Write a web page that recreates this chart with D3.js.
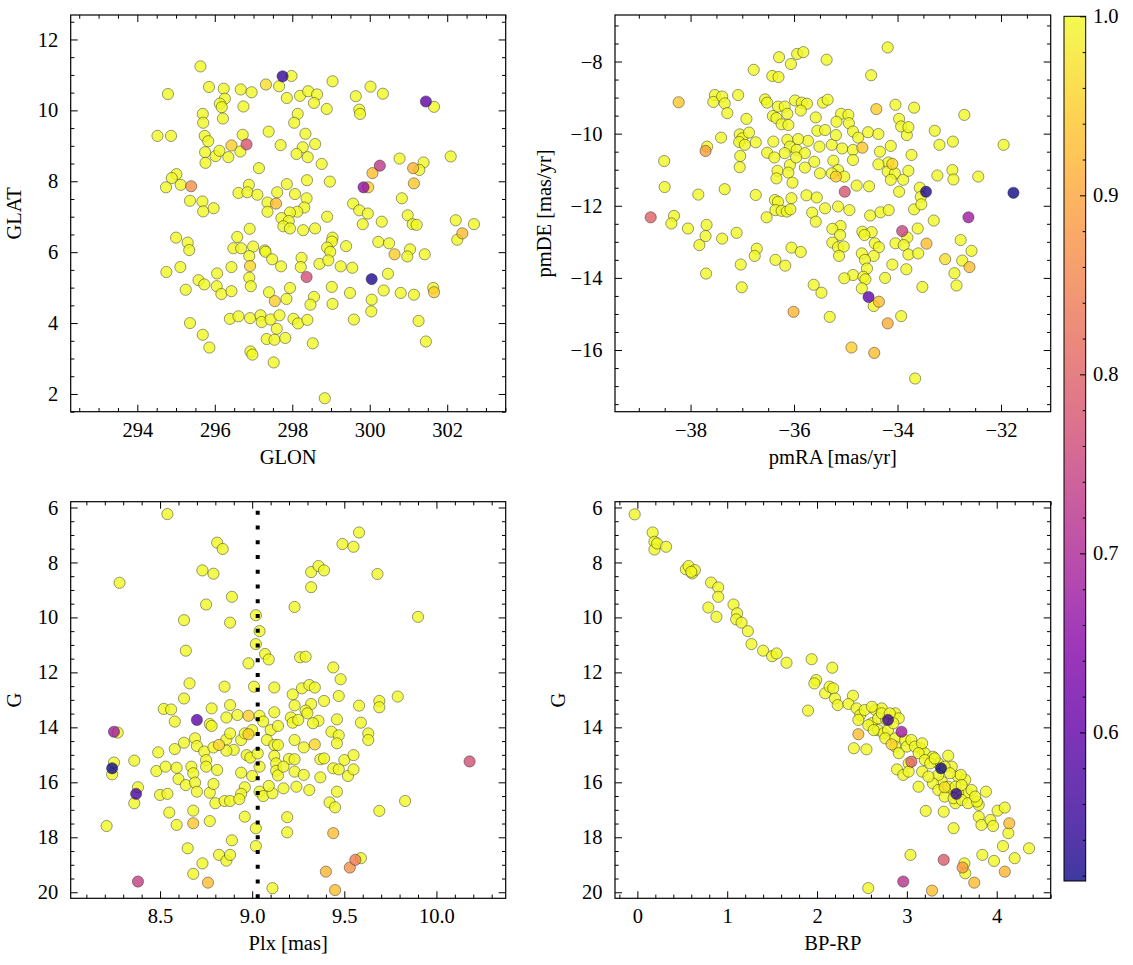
<!DOCTYPE html>
<html><head><meta charset="utf-8">
<script src="https://cdn.jsdelivr.net/npm/d3@7"></script>
<style>body{margin:0;background:#fff} text{font-family:"Liberation Serif","DejaVu Serif",serif;}</style>
</head><body><svg id="c" width="1133" height="965"></svg>
<script>
// ---------- data (x, y, membership probability; probability omitted = 1.0) ----------
const probDomain=[0.517,1.0];
const cbTicks=[0.6,0.7,0.8,0.9,1.0];
const plxMean=9.03;

const glonGlat=[[295.63,11.24],[297.75,10.96,0.55],[297.98,10.97],[299.04,10.82],[297.32,10.73,0.97],[297.66,10.68],[295.85,10.66],[296.23,10.61],[296.67,10.59],[296.95,10.51],[300.02,10.67],[300.34,10.47],[294.79,10.46],[298.20,10.41],[298.41,10.54],[298.64,10.45],[297.86,10.35],[299.64,10.40],[296.26,10.33],[296.13,10.19],[296.18,10.09],[296.74,10.11],[298.56,10.21],[298.89,10.04],[301.45,10.25,0.60],[301.66,10.10],[299.73,10.02],[299.75,9.90],[295.69,9.90],[295.70,9.65],[296.21,9.77],[298.14,9.90],[298.05,9.65],[294.52,9.28],[294.87,9.28],[295.74,9.28],[295.83,9.13],[296.72,9.31],[297.39,9.40],[298.34,9.34],[298.59,9.05],[296.43,9.01,0.95],[296.82,9.04,0.78],[296.66,8.84],[297.70,9.02],[298.27,8.96],[298.11,8.77],[298.40,8.68],[295.75,8.82],[296.02,8.71],[296.12,8.86],[296.35,8.68],[295.76,8.52],[298.76,8.49],[297.14,8.37],[300.77,8.64],[301.39,8.53],[302.09,8.70],[300.26,8.44,0.73],[300.07,8.23,0.93],[301.12,8.37,0.92],[301.28,8.32],[301.14,7.94,0.94],[295.01,8.20],[294.89,8.09],[294.74,7.83],[295.12,7.90],[295.39,7.86,0.87],[298.38,8.03],[298.97,7.99],[297.86,7.92],[296.88,7.90],[299.96,7.83,0.95],[299.84,7.83,0.66],[296.61,7.67],[296.84,7.69],[297.10,7.62],[297.61,7.69],[298.07,7.64],[298.37,7.52],[297.36,7.40],[297.58,7.37,0.93],[295.36,7.45],[295.68,7.43],[295.70,7.15],[295.97,7.24],[300.83,7.52],[299.57,7.37],[299.73,7.18],[299.95,7.09],[297.36,7.14],[298.31,7.26],[298.13,7.14],[297.94,7.12],[298.90,7.00],[297.72,6.96],[297.91,6.88],[297.77,6.73],[297.94,6.67],[298.28,6.62],[298.59,6.67],[299.82,6.79],[300.31,6.86],[300.98,7.04],[301.11,6.79],[301.21,6.77],[302.22,6.90],[302.69,6.79],[302.39,6.53,0.93],[302.26,6.35],[296.90,6.66],[295.00,6.41],[295.30,6.27],[295.34,6.06],[296.58,6.43],[296.48,6.11],[296.68,6.11],[296.99,6.16],[297.29,6.05],[297.31,6.01],[296.89,5.89],[297.48,5.80],[299.04,6.41],[299.02,6.30],[298.90,6.13],[298.98,6.01],[299.39,6.17],[300.22,6.29],[300.50,6.25],[300.64,5.94,0.95],[301.04,6.08],[300.97,5.88],[301.42,5.94],[298.24,5.84],[298.22,5.58],[298.70,5.67],[298.93,5.77],[299.25,5.60],[299.55,5.56],[294.75,5.44],[295.11,5.58],[296.06,5.40],[296.43,5.58],[296.91,5.61,0.96],[297.71,5.60],[298.37,5.30,0.77],[300.05,5.24,0.53],[300.47,5.39],[295.58,5.21],[295.25,4.94],[295.73,5.09],[296.05,5.04],[296.17,4.82],[296.43,4.90],[296.89,5.28],[296.93,5.04],[297.40,4.87],[297.94,4.99],[297.85,4.68],[297.55,4.62,0.95],[299.02,5.02],[298.56,4.74],[298.47,4.52],[299.04,4.54],[299.49,4.85],[300.36,4.92],[300.80,4.85],[301.14,4.80],[301.64,4.99],[301.66,4.87,0.95],[300.05,4.66],[300.04,4.33],[295.36,4.00],[296.39,4.12],[296.61,4.19],[296.91,4.14],[297.18,4.22],[297.21,4.03],[297.44,4.10],[297.67,4.22],[298.03,4.12],[298.15,3.99],[298.39,4.09],[299.59,4.10],[301.26,4.06],[295.69,3.67],[295.86,3.31],[297.60,3.84],[297.34,3.55],[297.54,3.53],[297.82,3.58],[298.53,3.43],[301.45,3.48],[296.92,3.20],[296.97,3.11],[297.52,2.89],[298.84,1.88]];

const pmraPmde=[[-34.19,-7.61],[-36.29,-7.88],[-35.94,-7.79],[-35.82,-7.74],[-36.06,-8.07],[-35.37,-7.95],[-36.78,-8.23],[-36.42,-8.40],[-36.30,-8.43],[-34.51,-8.38],[-38.23,-9.13,0.94],[-37.53,-8.93],[-37.56,-9.12],[-37.39,-8.97],[-37.34,-9.16],[-37.29,-9.43],[-37.08,-8.93],[-36.56,-9.05],[-36.52,-9.14],[-36.31,-9.25],[-36.18,-9.25],[-36.13,-9.45],[-36.41,-9.51],[-36.34,-9.57],[-36.24,-9.74],[-36.11,-9.76],[-35.98,-9.08],[-35.85,-9.14],[-35.75,-9.17],[-35.87,-9.36],[-35.44,-9.14],[-35.35,-9.06],[-35.58,-9.55],[-36.92,-9.59],[-35.09,-9.45],[-34.95,-9.48],[-35.18,-9.67],[-34.94,-9.71],[-34.86,-9.94],[-34.76,-10.11],[-34.41,-9.32,0.95],[-34.04,-9.20],[-33.68,-9.28],[-33.97,-9.59],[-33.93,-9.80],[-33.82,-10.04],[-33.79,-9.82],[-32.71,-9.48],[-33.28,-9.92],[-33.19,-10.31],[-32.93,-10.22],[-31.95,-10.31],[-37.41,-10.11],[-37.68,-10.36],[-37.71,-10.48,0.89],[-37.05,-10.02],[-37.00,-10.13],[-36.87,-9.97],[-36.74,-10.24],[-37.06,-10.23],[-36.95,-10.31],[-37.04,-10.62],[-37.05,-10.93],[-38.51,-10.76],[-38.50,-11.48],[-37.85,-11.69],[-37.34,-11.54],[-35.55,-9.92],[-35.40,-9.90],[-35.73,-10.20],[-35.92,-10.15],[-36.13,-10.17],[-36.40,-10.22],[-36.08,-10.36],[-35.95,-10.45],[-35.79,-10.54],[-36.18,-10.54],[-36.52,-10.53],[-36.38,-10.66],[-36.08,-10.87],[-35.96,-10.66],[-35.51,-10.36],[-35.27,-10.31],[-35.19,-10.04],[-35.07,-10.41],[-34.86,-10.45],[-34.57,-9.96],[-34.37,-10.01],[-34.68,-10.39,0.94],[-35.61,-10.78],[-35.79,-10.94],[-36.32,-11.03],[-36.34,-11.24],[-36.11,-11.08],[-36.03,-11.36],[-35.24,-10.75],[-35.15,-11.01],[-35.50,-11.10],[-35.27,-11.10],[-35.19,-11.19,0.95],[-35.03,-11.19],[-34.86,-10.73],[-34.34,-10.50],[-34.13,-10.34],[-33.73,-10.59],[-34.18,-10.80],[-34.10,-10.84,0.96],[-34.37,-10.85],[-34.19,-11.05],[-34.05,-11.10],[-34.13,-11.28],[-33.89,-11.28],[-33.79,-11.03],[-34.79,-11.44],[-34.55,-11.46],[-35.02,-11.61,0.78],[-33.97,-11.61],[-33.57,-11.50],[-33.55,-11.75],[-33.45,-11.61,0.53],[-33.23,-11.16],[-32.94,-11.01],[-32.92,-11.27],[-32.44,-11.19],[-31.76,-11.64,0.52],[-38.77,-12.32,0.80],[-38.32,-12.28],[-38.37,-12.49],[-38.05,-12.63],[-37.69,-12.53],[-37.71,-12.84],[-37.83,-13.09],[-37.39,-12.91],[-37.11,-12.75],[-36.74,-11.70],[-36.37,-11.84],[-36.31,-11.89],[-36.36,-12.12],[-36.24,-12.14],[-36.14,-12.16],[-36.05,-11.79],[-36.07,-12.10],[-36.53,-12.32],[-35.76,-11.71],[-35.56,-11.77],[-35.65,-12.19],[-35.40,-12.07],[-35.58,-12.44],[-35.15,-12.02],[-34.93,-12.12],[-34.53,-12.27],[-34.33,-12.18],[-34.17,-12.12],[-33.68,-12.10],[-33.54,-11.96],[-33.30,-12.41],[-32.63,-12.32,0.68],[-35.10,-12.56],[-35.26,-12.64],[-35.11,-12.81],[-35.26,-13.02],[-35.15,-13.15],[-35.04,-13.13],[-35.13,-13.39],[-34.68,-12.72],[-34.50,-12.73],[-34.64,-12.81],[-34.44,-13.04],[-34.36,-13.15],[-34.69,-13.32],[-34.46,-13.39],[-34.63,-13.50],[-33.91,-12.70,0.75],[-33.81,-12.88],[-34.04,-13.04],[-33.88,-13.09],[-33.79,-13.35],[-33.60,-13.32],[-33.61,-12.63],[-33.44,-13.05,0.93],[-32.78,-12.95],[-32.57,-13.25],[-32.75,-13.52],[-32.90,-13.87],[-32.86,-14.21],[-32.61,-13.70,0.93],[-33.08,-13.48,0.97],[-36.05,-13.16],[-35.87,-13.28],[-36.72,-13.19],[-36.76,-13.39],[-36.36,-13.50],[-36.17,-13.66],[-37.03,-13.63],[-37.70,-13.88],[-37.01,-14.26],[-34.10,-13.63],[-33.83,-13.76],[-34.59,-13.74],[-34.86,-13.92],[-34.66,-13.97],[-34.62,-14.04],[-35.03,-14.01],[-34.69,-14.29],[-34.24,-14.00],[-33.52,-14.25],[-35.62,-14.19],[-35.47,-14.41],[-34.56,-14.53,0.60],[-34.46,-14.78],[-34.36,-14.66,0.93],[-36.01,-14.94,0.92],[-35.31,-15.08],[-33.93,-15.06],[-34.19,-15.26,0.91],[-34.89,-15.93,0.95],[-34.45,-16.08,0.93],[-33.66,-16.79]];

const plxG=[[8.54,6.24],[9.58,6.91],[9.49,7.33],[9.55,7.43],[8.81,7.28],[8.84,7.51],[8.73,8.29],[8.79,8.41],[9.32,8.35],[9.36,8.13],[9.39,8.29],[9.32,8.90],[9.68,8.42],[8.28,8.74],[8.89,9.25],[8.75,9.53],[9.23,9.62],[8.63,10.10],[8.88,10.19],[9.90,9.98],[9.02,9.92],[9.04,10.50],[9.02,10.97],[8.64,11.21],[9.07,11.33],[9.09,11.53],[8.98,11.67],[9.26,11.45],[9.29,11.43],[9.44,11.82],[9.48,12.25],[8.66,12.40],[8.85,12.52],[9.12,12.55],[9.27,12.58],[9.31,12.46],[9.34,12.55],[9.01,12.52],[8.63,12.95],[8.52,13.33],[8.56,13.35],[8.78,13.31],[8.88,13.19],[9.22,12.80],[9.23,13.20],[9.32,13.15],[9.39,13.04],[9.47,12.86],[9.58,13.21],[9.69,13.04],[9.69,13.27],[9.79,12.88],[8.58,13.79],[8.70,13.73,0.60],[8.77,13.88],[8.78,13.95],[8.92,13.55],[8.98,13.58,0.95],[9.04,13.58],[9.12,13.45],[8.86,13.64],[9.06,13.79],[9.10,14.10],[9.14,13.95],[9.21,13.64],[9.22,13.83],[9.25,13.73],[9.29,13.39],[9.30,13.49],[9.36,13.76],[9.46,13.71],[9.33,13.85],[8.25,14.16,0.68],[8.27,14.19],[8.49,14.91],[8.58,14.79],[8.63,14.56],[8.69,14.40],[8.70,14.68],[8.74,14.88],[8.79,14.73],[8.82,14.64,0.96],[8.86,14.44],[8.88,14.22],[8.90,14.82],[8.86,14.85],[8.94,14.46],[8.96,14.22],[8.98,14.25,0.95],[9.00,14.10],[9.08,14.46],[9.12,14.64],[9.14,14.64],[9.23,14.46],[9.28,14.73],[9.34,14.62,0.96],[9.43,14.16],[9.47,14.29],[9.46,14.58],[9.59,13.83],[9.63,14.22],[9.63,14.46],[8.97,15.01],[8.99,15.10],[9.03,14.95],[9.12,15.04],[9.13,15.31],[9.20,15.15],[9.23,15.16],[9.37,15.16],[9.39,15.13],[9.50,15.19],[9.55,15.01],[10.18,15.24,0.77],[8.36,15.21],[8.25,15.28],[8.24,15.49,0.52],[8.24,15.71],[8.48,15.59],[8.53,15.43],[8.59,15.47],[8.67,15.43],[8.68,15.67],[8.75,15.19],[8.75,15.43],[8.81,15.55],[8.94,15.65],[9.00,15.77],[9.04,15.43],[9.13,15.58],[9.14,15.75],[9.17,15.43],[9.23,15.61],[9.28,15.73],[9.37,15.82],[9.44,15.49],[9.47,15.53],[9.52,15.77],[9.55,15.53],[8.60,15.88],[8.64,16.10],[8.69,16.01],[8.70,16.34],[8.77,16.38],[8.79,16.06],[8.96,16.18],[8.94,16.42],[9.04,16.34],[9.06,16.50],[9.11,16.40],[9.09,16.13],[9.17,16.22],[9.24,16.16],[9.31,16.28],[9.46,16.34],[8.38,16.18],[8.37,16.42,0.57],[8.36,16.76],[8.50,16.46],[8.54,16.42],[8.80,16.76],[8.85,16.68],[8.88,16.68],[8.93,16.61],[9.42,16.73],[9.45,16.91],[9.83,16.68],[9.69,17.04],[8.55,17.10],[8.68,17.03],[8.96,17.25],[9.19,17.27],[8.21,17.59],[8.59,17.55],[8.68,17.49,0.94],[8.77,17.41],[9.02,17.67],[9.19,17.82],[9.44,17.85,0.93],[8.89,18.11],[8.65,18.40],[9.02,18.32],[8.82,18.64],[8.86,18.85],[8.88,18.64],[8.73,18.95],[9.59,18.76],[9.56,18.82,0.84],[9.53,19.10,0.87],[8.68,19.33],[8.76,19.65,0.93],[8.38,19.61,0.74],[9.40,19.25,0.92],[9.11,19.85],[9.45,19.92,0.93]];

const bprpG=[[-0.03,6.25],[0.17,6.91],[0.19,7.25],[0.19,7.53],[0.22,7.31],[0.32,7.43],[0.54,8.25],[0.57,8.13],[0.61,8.40],[0.64,8.28],[0.60,8.34],[0.82,8.73],[0.90,8.91],[0.90,9.25],[0.79,9.64],[0.88,9.98],[1.07,9.53],[1.11,9.85],[1.10,10.07],[1.16,10.19],[1.23,10.50],[1.27,10.97],[1.40,11.21],[1.50,11.41],[1.55,11.31],[1.66,11.65],[1.94,11.52],[2.17,11.83],[1.90,13.39],[1.99,12.28],[1.97,12.40],[2.09,12.76],[2.14,12.52],[2.18,12.58],[2.20,12.95],[2.23,13.19],[2.40,12.85],[2.35,13.15],[2.44,13.31],[2.48,13.55],[2.53,13.37],[2.61,13.85],[2.57,13.92],[2.65,13.37],[2.72,13.31],[2.68,13.67],[2.77,13.73],[2.87,13.49],[2.91,13.67],[2.46,13.73],[2.68,14.10],[2.74,14.22],[2.79,14.10],[2.61,13.25],[2.72,13.49],[2.81,13.49],[2.85,13.85],[2.63,14.10],[2.76,14.40],[2.87,14.40],[2.98,14.46],[3.15,14.76],[3.20,14.94],[3.29,15.07],[3.35,15.31],[3.50,15.43],[3.57,15.79],[3.65,15.91],[3.39,15.98],[3.50,16.28],[3.67,16.40],[3.57,16.40],[3.54,16.76],[3.80,16.82],[2.79,13.73,0.56],[2.94,14.16,0.68],[2.46,14.25,0.93],[2.83,14.62,0.96],[2.41,14.76],[2.55,14.80],[2.87,14.70],[2.91,14.94],[3.00,14.70],[3.05,14.46],[3.09,14.70],[3.17,14.58],[3.13,14.94],[3.02,15.31],[3.05,15.25,0.80],[3.20,15.19],[3.26,15.31],[3.31,15.13],[3.46,15.03],[3.42,15.43],[3.48,15.67],[3.60,15.73],[3.35,15.73],[3.29,16.04],[3.35,16.28],[3.46,16.16],[3.54,16.16],[3.61,16.10],[3.42,16.52],[3.52,16.58],[3.61,16.64],[3.68,16.76],[3.78,16.70],[3.72,16.28],[3.88,16.34],[3.76,16.52],[3.17,15.61],[3.24,15.79],[3.38,15.49,0.52],[3.55,16.42,0.55],[2.89,15.53],[2.96,15.73],[3.02,15.61],[3.13,16.16],[3.42,16.18,0.97],[3.21,17.04],[3.41,17.07],[3.52,17.67],[3.80,17.25],[3.83,17.55],[3.93,17.37],[3.96,17.59],[4.01,17.03],[4.09,16.92],[4.14,17.49,0.93],[4.13,17.85],[4.07,18.32],[4.36,18.40],[4.20,18.76],[3.84,18.64],[3.97,18.86],[3.04,18.64],[3.41,18.82,0.79],[3.64,18.95],[3.62,19.10,0.88],[3.65,19.31],[4.09,19.25,0.92],[3.75,19.65,0.93],[2.96,19.61,0.72],[3.28,19.94,0.93],[2.57,19.85]];

// ---------- layout ----------
const svg=d3.select("#c");
const defs=svg.append("defs");
const color=d3.scaleSequential(d3.interpolatePlasma).domain(probDomain);
const FS=20.5, MAJ=7, MIN=3.7;

const panels=[
 {data:glonGlat,box:[70.7,15,505.7,411.7],xd:[292.28,303.51],yd:[1.50,12.69],inv:false,
  xt:[294,296,298,300,302],xs:0.5,yt:[2,4,6,8,10,12],ys:0.5,xf:d3.format("d"),yf:d3.format("d"),xl:"GLON",yl:"GLAT",ylx:20.7},
 {data:pmraPmde,box:[615,15,1050.7,411.7],xd:[-39.46,-31.04],yd:[-17.71,-6.71],inv:false,
  xt:[-38,-36,-34,-32],xs:0.5,yt:[-16,-14,-12,-10,-8],ys:0.5,xf:d3.format("d"),yf:d3.format("d"),xl:"pmRA [mas/yr]",yl:"pmDE [mas/yr]",ylx:551},
 {data:plxG,box:[70.7,501.7,505.7,898.3],xd:[8.015,10.376],yd:[5.79,20.22],inv:true,
  xt:[8.5,9.0,9.5,10.0],xs:0.1,yt:[6,8,10,12,14,16,18,20],ys:0.5,xf:d3.format(".1f"),yf:d3.format("d"),xl:"Plx [mas]",yl:"G",ylx:20.7,vline:plxMean},
 {data:bprpG,box:[615,501.7,1050.7,898.3],xd:[-0.249,4.601],yd:[5.79,20.22],inv:true,
  xt:[0,1,2,3,4],xs:0.2,yt:[6,8,10,12,14,16,18,20],ys:0.5,xf:d3.format("d"),yf:d3.format("d"),xl:"BP-RP",yl:"G",ylx:565}
];

function minorTicks(dom,step,major){
  const lo=Math.min(...dom),hi=Math.max(...dom),out=[];
  for(let k=Math.ceil(lo/step-1e-9);k<=Math.floor(hi/step+1e-9);k++){
    const v=+(k*step).toFixed(6);
    if(!major.some(m=>Math.abs(m-v)<step/10)) out.push(v);
  }
  return out;
}
function styleAxis(g){g.select(".domain").remove();g.selectAll("line").attr("stroke","#000").attr("stroke-width",1);
  g.selectAll("text").attr("font-size",FS).attr("fill","#000").attr("font-family",'"Liberation Serif","DejaVu Serif",serif');}

panels.forEach((p,i)=>{
  const [x0,y0,x1,y1]=p.box;
  const x=d3.scaleLinear().domain(p.xd).range([x0,x1]);
  const y=d3.scaleLinear().domain(p.yd).range(p.inv?[y0,y1]:[y1,y0]);
  defs.append("clipPath").attr("id","clip"+i).append("rect").attr("x",x0).attr("y",y0).attr("width",x1-x0).attr("height",y1-y0);
  const g=svg.append("g");
  const pts=p.data.map(d=>({x:d[0],y:d[1],p:d.length>2?d[2]:1})).sort((a,b)=>b.p-a.p);
  const plot=g.append("g").attr("clip-path",`url(#clip${i})`);
  plot.selectAll("circle").data(pts).join("circle")
    .attr("cx",d=>x(d.x)).attr("cy",d=>y(d.y)).attr("r",5.6)
    .attr("fill",d=>color(d.p)).attr("fill-opacity",0.8)
    .attr("stroke","#2a2a2a").attr("stroke-opacity",0.8).attr("stroke-width",0.6);
  if(p.vline!==undefined){
    plot.append("line").attr("x1",x(p.vline)).attr("x2",x(p.vline)).attr("y1",y1).attr("y2",y0)
      .attr("stroke","#000").attr("stroke-width",4).attr("stroke-dasharray","4,10.75");
  }
  const xm=minorTicks(p.xd,p.xs,p.xt), ym=minorTicks(p.yd,p.ys,p.yt);
  g.append("g").attr("transform",`translate(0,${y1})`).call(d3.axisBottom(x).tickValues(p.xt).tickSize(-MAJ).tickPadding(10.5).tickFormat(p.xf)).call(styleAxis);
  g.append("g").attr("transform",`translate(0,${y1})`).call(d3.axisBottom(x).tickValues(xm).tickSize(-MIN).tickFormat("")).call(styleAxis);
  g.append("g").attr("transform",`translate(0,${y0})`).call(d3.axisTop(x).tickValues(p.xt).tickSize(-MAJ).tickFormat("")).call(styleAxis);
  g.append("g").attr("transform",`translate(0,${y0})`).call(d3.axisTop(x).tickValues(xm).tickSize(-MIN).tickFormat("")).call(styleAxis);
  g.append("g").attr("transform",`translate(${x0},0)`).call(d3.axisLeft(y).tickValues(p.yt).tickSize(-MAJ).tickPadding(12.5).tickFormat(p.yf)).call(styleAxis);
  g.append("g").attr("transform",`translate(${x0},0)`).call(d3.axisLeft(y).tickValues(ym).tickSize(-MIN).tickFormat("")).call(styleAxis);
  g.append("g").attr("transform",`translate(${x1},0)`).call(d3.axisRight(y).tickValues(p.yt).tickSize(-MAJ).tickFormat("")).call(styleAxis);
  g.append("g").attr("transform",`translate(${x1},0)`).call(d3.axisRight(y).tickValues(ym).tickSize(-MIN).tickFormat("")).call(styleAxis);
  g.append("rect").attr("x",x0).attr("y",y0).attr("width",x1-x0).attr("height",y1-y0)
    .attr("fill","none").attr("stroke","#000").attr("stroke-width",1.2);
  g.append("text").attr("x",(x0+x1)/2).attr("y",y1+52).attr("text-anchor","middle").attr("font-size",FS).text(p.xl);
  g.append("text").attr("transform",`translate(${p.ylx},${(y0+y1)/2}) rotate(-90)`).attr("text-anchor","middle").attr("font-size",FS).text(p.yl);
});

// ---------- colorbar ----------
const cb={x0:1064,x1:1085.7,y0:16.3,y1:881};
const cy=d3.scaleLinear().domain(probDomain).range([cb.y1,cb.y0]);
const grad=defs.append("linearGradient").attr("id","cbg").attr("x1",0).attr("y1",1).attr("x2",0).attr("y2",0);
d3.range(0,1.0001,0.02).forEach(t=>grad.append("stop").attr("offset",t).attr("stop-color",d3.interpolatePlasma(t)));
svg.append("rect").attr("x",cb.x0).attr("y",cb.y0).attr("width",cb.x1-cb.x0).attr("height",cb.y1-cb.y0)
  .attr("fill","url(#cbg)").attr("fill-opacity",0.8);
const cbMinor=minorTicks(probDomain,0.02,cbTicks);
svg.append("g").attr("transform",`translate(${cb.x1},0)`).call(d3.axisRight(cy).tickValues(cbTicks).tickSize(-5.7).tickPadding(7.3).tickFormat(d3.format(".1f"))).call(styleAxis);
svg.append("g").attr("transform",`translate(${cb.x1},0)`).call(d3.axisRight(cy).tickValues(cbMinor).tickSize(-3).tickFormat("")).call(styleAxis);
svg.append("rect").attr("x",cb.x0).attr("y",cb.y0).attr("width",cb.x1-cb.x0).attr("height",cb.y1-cb.y0)
  .attr("fill","none").attr("stroke","#000").attr("stroke-width",1);
</script></body></html>
